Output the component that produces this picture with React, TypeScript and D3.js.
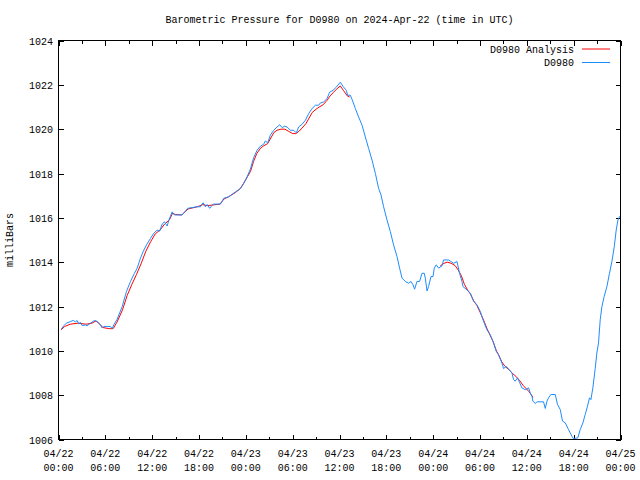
import React from "react";
import * as d3 from "d3";

// ---- data (hours since 2024-04-22 00:00 UTC) ----
const obsHours = [
  0.35, 0.68, 1.02, 1.54, 1.88, 2.18, 2.39, 2.6, 2.82, 3.03, 3.46, 3.67, 4.1, 4.61, 4.96, 5.29, 5.6, 5.8, 6.66, 6.88,
  7.08, 7.52, 8.16, 8.71, 9.22, 9.73, 10.08, 10.5, 10.85, 11.27, 11.78, 12.2, 12.64, 12.97, 13.28, 13.57, 13.92, 14.12,
  14.56, 14.85, 15.84, 16.56, 17.76, 18.18, 18.53, 18.82, 19.04, 19.37, 19.81, 20.74, 21.17, 21.81, 22.66, 23.3, 23.73,
  24.16, 24.58, 25.01, 25.44, 25.86, 26.29, 26.5, 26.8, 27.14, 27.57, 28.0, 28.34, 28.64, 28.94, 29.28, 29.71, 30.13,
  30.47, 30.77, 31.2, 31.63, 32.05, 32.48, 32.91, 33.33, 33.55, 33.97, 34.41, 34.74, 35.17, 35.6, 36.11, 36.45, 36.88,
  37.04, 37.39, 37.73, 38.03, 38.45, 38.89, 39.31, 39.73, 40.17, 40.6, 41.01, 41.32, 41.65, 42.09, 42.51, 42.93, 43.37,
  43.7, 44.01, 44.43, 44.85, 45.16, 45.42, 45.62, 45.93, 46.26, 46.57, 46.86, 46.99, 47.21, 47.41, 47.72, 47.98, 48.14,
  48.4, 48.69, 49.13, 49.33, 49.97, 50.28, 50.61, 51.05, 51.38, 51.69, 51.82, 52.33, 52.75, 53.18, 53.61, 54.03, 54.46,
  54.89, 55.31, 55.74, 56.08, 56.38, 56.81, 57.02, 57.36, 57.66, 58.09, 58.3, 58.51, 58.81, 59.06, 59.37, 59.8, 60.22,
  60.44, 60.65, 60.78, 61.08, 61.29, 62.14, 62.36, 62.58, 62.78, 63.09, 63.64, 63.93, 64.28, 64.57, 64.92, 65.34, 65.77,
  65.98, 66.54, 66.84, 67.18, 67.48, 67.77, 68.03, 68.21, 68.46, 68.76, 68.97, 69.18, 69.4, 69.62, 69.91, 70.26, 70.59,
  70.9, 71.2, 71.45, 71.67, 71.87, 72.0,
];
const obsValues = [
  1010.98, 1011.13, 1011.25, 1011.32, 1011.37, 1011.31, 1011.37, 1011.22, 1011.28, 1011.14, 1011.17, 1011.13, 1011.25,
  1011.37, 1011.32, 1011.21, 1011.03, 1011.1, 1011.1, 1011.0, 1011.17, 1011.43, 1012.0, 1012.68, 1013.13, 1013.5,
  1013.73, 1014.18, 1014.48, 1014.78, 1015.07, 1015.3, 1015.45, 1015.4, 1015.72, 1015.82, 1015.63, 1015.87, 1016.27,
  1016.13, 1016.13, 1016.43, 1016.5, 1016.5, 1016.68, 1016.5, 1016.6, 1016.43, 1016.62, 1016.62, 1016.88, 1016.95,
  1017.17, 1017.32, 1017.55, 1017.85, 1018.2, 1018.72, 1019.05, 1019.23, 1019.32, 1019.47, 1019.38, 1019.73, 1019.95,
  1020.1, 1020.2, 1020.07, 1020.13, 1020.1, 1019.95, 1019.95, 1019.83, 1020.1, 1020.22, 1020.4, 1020.7, 1020.93,
  1021.08, 1021.08, 1021.18, 1021.23, 1021.38, 1021.67, 1021.75, 1021.9, 1022.12, 1021.93, 1021.75, 1021.53, 1021.53,
  1021.23, 1020.93, 1020.55, 1020.18, 1019.65, 1019.13, 1018.6, 1018.0, 1017.33, 1017.03, 1016.5, 1015.9, 1015.38,
  1014.78, 1014.25, 1013.73, 1013.28, 1013.13, 1013.05, 1013.13, 1012.98, 1012.78, 1013.13, 1013.13, 1013.5, 1013.5,
  1013.28, 1012.7, 1012.9, 1013.35, 1013.35, 1013.73, 1013.88, 1013.73, 1013.83, 1014.1, 1014.1, 1014.03, 1013.95,
  1014.03, 1013.5, 1013.13, 1012.9, 1012.75, 1012.6, 1012.23, 1012.08, 1011.78, 1011.33, 1010.95, 1010.73, 1010.35,
  1009.98, 1009.83, 1009.45, 1009.2, 1009.3, 1009.18, 1009.0, 1008.7, 1008.63, 1008.78, 1008.58, 1008.33, 1008.25,
  1008.33, 1008.1, 1007.95, 1007.73, 1007.62, 1007.7, 1007.7, 1007.4, 1007.73, 1007.88, 1008.03, 1008.03, 1007.58,
  1007.35, 1006.83, 1006.75, 1006.45, 1006.15, 1006.03, 1006.08, 1006.45, 1006.75, 1007.13, 1007.5, 1007.88, 1007.8,
  1008.33, 1009.2, 1009.9, 1010.35, 1011.4, 1012.0, 1012.45, 1012.9, 1013.5, 1014.03, 1014.7, 1015.45, 1015.9, 1016.05,
  1016.1,
];

// analysis series (null marks a gap with no analysis values)
const anaHours = [
  0.35, 0.8, 1.5, 2.5, 3.5, 4.3, 4.8, 5.3, 5.7, 6.5, 7.0, 7.5, 8.2, 8.8, 9.4, 10.0, 10.6, 11.2, 11.8, 12.4, 13.0, 13.6,
  14.2, 14.6, 15.0, 15.8, 16.6, 17.8, 18.5, 19.0, 19.8, 20.7, 21.2, 21.8, 22.7, 23.3, 23.7, 24.2, 24.6, 25.0, 25.4,
  25.9, 26.3, 26.8, 27.2, 27.6, 28.0, 28.5, 29.0, 29.5, 30.0, 30.4, 30.8, 31.2, 31.7, 32.1, 32.5, 33.0, 33.4, 33.9,
  34.4, 34.8, 35.2, 35.6, 36.1, 36.5, 37.0, 37.3, 43.0, 48.9, 49.4, 49.8, 50.3, 50.8, 51.2, 51.6, 52.0, 52.4, 52.8,
  53.2, 53.6, 54.0, 54.5, 54.9, 55.3, 55.7, 56.1, 56.4, 56.8, 57.2, 57.7, 58.1, 58.6, 59.1, 59.5, 59.9, 60.3, 60.6,
  60.8,
];
const anaValues: (number | null)[] = [
  1010.95, 1011.1, 1011.2, 1011.25, 1011.2, 1011.25, 1011.35, 1011.2, 1011.05, 1011.0, 1011.0, 1011.3, 1011.85, 1012.5,
  1013.0, 1013.45, 1013.95, 1014.5, 1014.92, 1015.28, 1015.45, 1015.72, 1015.9, 1016.2, 1016.15, 1016.13, 1016.4,
  1016.5, 1016.6, 1016.55, 1016.58, 1016.62, 1016.85, 1016.95, 1017.15, 1017.32, 1017.55, 1017.85, 1018.1, 1018.55,
  1018.9, 1019.15, 1019.25, 1019.35, 1019.6, 1019.85, 1019.95, 1020.0, 1020.0, 1019.9, 1019.8, 1019.8, 1019.9, 1020.05,
  1020.25, 1020.5, 1020.75, 1020.9, 1021.0, 1021.1, 1021.3, 1021.5, 1021.65, 1021.8, 1021.95, 1021.75, 1021.5, 1021.45,
  null, 1013.83, 1013.95, 1014.0, 1013.95, 1013.85, 1013.65, 1013.4, 1013.0, 1012.75, 1012.55, 1012.25, 1012.05,
  1011.75, 1011.35, 1011.0, 1010.7, 1010.4, 1010.0, 1009.8, 1009.5, 1009.3, 1009.15, 1009.0, 1008.85, 1008.65, 1008.45,
  1008.3, 1008.15, 1008.0, 1007.9,
];

const xTickHours = [0, 6, 12, 18, 24, 30, 36, 42, 48, 54, 60, 66, 72];
const xTickDates = ["04/22", "04/22", "04/22", "04/22", "04/23", "04/23", "04/23", "04/23", "04/24", "04/24", "04/24", "04/24", "04/25"];
const xTickTimes = ["00:00", "06:00", "12:00", "18:00", "00:00", "06:00", "12:00", "18:00", "00:00", "06:00", "12:00", "18:00", "00:00"];
const xMinorHours = [3, 9, 15, 21, 27, 33, 39, 45, 51, 57, 63, 69];
const yTicks = [1006, 1008, 1010, 1012, 1014, 1016, 1018, 1020, 1022, 1024];

const TITLE = "Barometric Pressure for D0980 on 2024-Apr-22 (time in UTC)";
const SERIES_NAMES = ["D0980 Analysis", "D0980"];
const COLORS = ["#ff0000", "#1e8cff"];

const W = 640, H = 480;
const L = 58.5, R = 620.5, T = 40.5, B = 439.5;
const FONT = "'Liberation Mono', 'DejaVu Sans Mono', monospace";

export default function App() {
  const x = d3.scaleLinear().domain([0, 72]).range([L, R]);
  const y = d3.scaleLinear().domain([1006, 1024]).range([B, T]);

  const obsLine = d3
    .line<number>()
    .x((_, i) => x(obsHours[i]))
    .y((v) => y(v))(obsValues);

  const anaLine = d3
    .line<number | null>()
    .defined((v) => v !== null)
    .x((_, i) => x(anaHours[i]))
    .y((v) => y(v as number))(anaValues);

  const major = 5, minor = 3;

  return (
    <svg width={W} height={H} style={{ display: "block", position: "absolute", left: 0, top: 0, background: "#fff" }}>
      <rect x={0} y={0} width={W} height={H} fill="#fff" />
      <text x={(L + R) / 2} y={23} textAnchor="middle" fontFamily={FONT} fontSize={10} fill="#000">
        {TITLE}
      </text>
      <text
        transform={`translate(13,${(T + B) / 2}) rotate(-90)`}
        textAnchor="middle"
        fontFamily={FONT}
        fontSize={10}
        fill="#000"
      >
        milliBars
      </text>

      <g shapeRendering="crispEdges" stroke="#000" strokeWidth={1}>
        {yTicks.map((t) => (
          <g key={"y" + t}>
            <line x1={L} x2={L + major} y1={Math.round(y(t)) + 0.5} y2={Math.round(y(t)) + 0.5} />
            <line x1={R} x2={R - major} y1={Math.round(y(t)) + 0.5} y2={Math.round(y(t)) + 0.5} />
          </g>
        ))}
        {xTickHours.map((h) => (
          <g key={"x" + h}>
            <line x1={Math.round(x(h)) + 0.5} x2={Math.round(x(h)) + 0.5} y1={B} y2={B - major} />
            <line x1={Math.round(x(h)) + 0.5} x2={Math.round(x(h)) + 0.5} y1={T} y2={T + major} />
          </g>
        ))}
        {xMinorHours.map((h) => (
          <g key={"m" + h}>
            <line x1={Math.round(x(h)) + 0.5} x2={Math.round(x(h)) + 0.5} y1={B} y2={B - minor} />
            <line x1={Math.round(x(h)) + 0.5} x2={Math.round(x(h)) + 0.5} y1={T} y2={T + minor} />
          </g>
        ))}
      </g>

      {yTicks.map((t) => (
        <text key={"yl" + t} x={53} y={y(t) + 4} textAnchor="end" fontFamily={FONT} fontSize={10} fill="#000">
          {t}
        </text>
      ))}
      {xTickHours.map((h, i) => (
        <g key={"xl" + h}>
          <text x={x(h)} y={457} textAnchor="middle" fontFamily={FONT} fontSize={10} fill="#000">
            {xTickDates[i]}
          </text>
          <text x={x(h)} y={471} textAnchor="middle" fontFamily={FONT} fontSize={10} fill="#000">
            {xTickTimes[i]}
          </text>
        </g>
      ))}

      <path d={anaLine ?? ""} fill="none" stroke={COLORS[0]} strokeWidth={1} />
      <path d={obsLine ?? ""} fill="none" stroke={COLORS[1]} strokeWidth={1} />

      {SERIES_NAMES.map((n, i) => (
        <g key={n}>
          <text x={574} y={52.5 + i * 13.5} textAnchor="end" fontFamily={FONT} fontSize={10} fill="#000">
            {n}
          </text>
          <line x1={582} x2={610} y1={49 + i * 13.5} y2={49 + i * 13.5} stroke={COLORS[i]} strokeWidth={1} />
        </g>
      ))}

      <rect x={L} y={T} width={R - L} height={B - T} fill="none" stroke="#000" strokeWidth={1} shapeRendering="crispEdges" />
    </svg>
  );
}
